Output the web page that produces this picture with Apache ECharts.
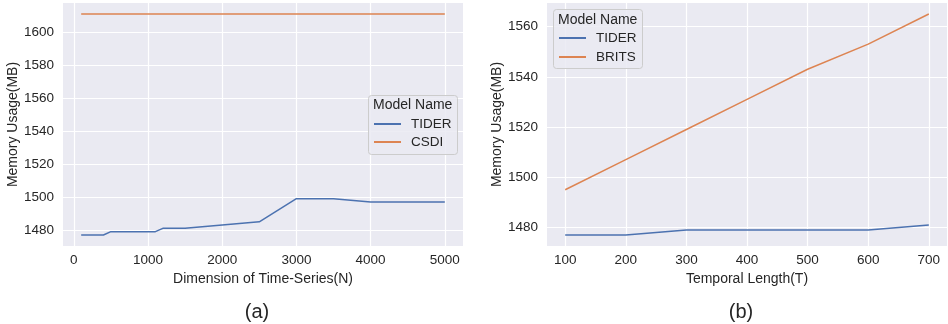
<!DOCTYPE html>
<html><head><meta charset="utf-8">
<script src="https://cdn.jsdelivr.net/npm/echarts@6/dist/echarts.min.js"></script>
<style>html,body{margin:0;padding:0;background:#fff}#c{width:948px;height:324px}</style>
</head><body><div id="c"></div>
<script>
// Panel (a)
const xA = [100, 400, 500, 1100, 1200, 1500, 2000, 2500, 3000, 3500, 4000, 5000];
const tiderA = [1477, 1477, 1479, 1479, 1481, 1481, 1483, 1485, 1499, 1499, 1497, 1497];
const csdiA = [1611, 1611, 1611, 1611, 1611, 1611, 1611, 1611, 1611, 1611, 1611, 1611];
const xTicksA = [0, 1000, 2000, 3000, 4000, 5000];
const yTicksA = [1480, 1500, 1520, 1540, 1560, 1580, 1600];
// Panel (b)
const xB = [100, 200, 300, 400, 500, 600, 700];
const tiderB = [1477, 1477, 1479, 1479, 1479, 1479, 1481];
const britsB = [1495, 1507, 1519, 1531, 1543, 1553, 1565];
const xTicksB = [100, 200, 300, 400, 500, 600, 700];
const yTicksB = [1480, 1500, 1520, 1540, 1560];

const BLUE = '#4C72B0', ORANGE = '#DD8452', TXT = '#262626', FONT = 'Liberation Sans, Arial, sans-serif';
const chart = echarts.init(document.getElementById('c'));
function xAxis(idx, min, max, ticks, name) {
  return {
    type: 'value', gridIndex: idx, min: min, max: max,
    name: name, nameLocation: 'middle', nameGap: 22,
    nameTextStyle: { color: TXT, fontSize: 14, fontFamily: FONT },
    axisLine: { show: false },
    axisTick: { show: false, customValues: ticks },
    axisLabel: { customValues: ticks, color: TXT, fontSize: 13.5, fontFamily: FONT, margin: 7, formatter: v => String(v) },
    splitLine: { show: true, lineStyle: { color: '#ffffff', width: 1.2 } }
  };
}
function yAxis(idx, min, max, ticks) {
  return {
    type: 'value', gridIndex: idx, min: min, max: max,
    name: 'Memory Usage(MB)', nameLocation: 'middle', nameGap: 42,
    nameTextStyle: { color: TXT, fontSize: 14, fontFamily: FONT },
    axisLine: { show: false },
    axisTick: { show: false, customValues: ticks },
    axisLabel: { customValues: ticks, color: TXT, fontSize: 13.5, fontFamily: FONT, margin: 9, formatter: v => String(v) },
    splitLine: { show: true, lineStyle: { color: '#ffffff', width: 1.2 } }
  };
}
function line(name, xs, ys, color, xi) {
  return {
    type: 'line', name: name, xAxisIndex: xi, yAxisIndex: xi,
    data: xs.map((x, i) => [x, ys[i]]),
    showSymbol: false, symbol: 'none', lineStyle: { color: color, width: 1.5 }, itemStyle: { color: color },
    emphasis: { disabled: true }, animation: false
  };
}
const legendText = { color: TXT, fontSize: 13.5, fontFamily: FONT, lineHeight: 14, padding: [0, 0, 0, 5] };
chart.setOption({
  animation: false,
  grid: [
    { left: 63, top: 3, width: 400, height: 243, show: true, backgroundColor: '#EAEAF2', borderWidth: 0 },
    { left: 547, top: 3, width: 400, height: 243, show: true, backgroundColor: '#EAEAF2', borderWidth: 0 }
  ],
  xAxis: [
    xAxis(0, -145, 5245, xTicksA, 'Dimension of Time-Series(N)'),
    xAxis(1, 70, 730, xTicksB, 'Temporal Length(T)')
  ],
  yAxis: [
    yAxis(0, 1470.3, 1617.7, yTicksA),
    yAxis(1, 1472.6, 1569.4, yTicksB)
  ],
  legend: [
    { z: 60, data: ['TIDER', 'CSDI'], orient: 'vertical', left: 374, top: 117, itemWidth: 27, itemHeight: 2, itemGap: 4, icon: 'rect', textStyle: legendText, selectedMode: false, padding: 0 },
    { z: 60, data: ['TIDER', 'BRITS'], orient: 'vertical', left: 559, top: 31, itemWidth: 27, itemHeight: 2, itemGap: 5, icon: 'rect', textStyle: legendText, selectedMode: false, padding: 0 }
  ],
  graphic: [
    { type: 'rect', z: 50, shape: { x: 368.5, y: 95.5, width: 89, height: 59, r: 3 }, style: { fill: 'rgba(234,234,242,0.85)', stroke: '#CCCCCC', lineWidth: 1 } },
    { type: 'text', z: 51, x: 373, y: 105, style: { text: 'Model Name', fill: TXT, font: '14px ' + FONT, verticalAlign: 'middle' } },
    { type: 'rect', z: 50, shape: { x: 553.5, y: 9.5, width: 89, height: 59, r: 3 }, style: { fill: 'rgba(234,234,242,0.85)', stroke: '#CCCCCC', lineWidth: 1 } },
    { type: 'text', z: 51, x: 558, y: 20, style: { text: 'Model Name', fill: TXT, font: '14px ' + FONT, verticalAlign: 'middle' } },
    { type: 'text', x: 257, y: 312, style: { text: '(a)', fill: TXT, font: '20px ' + FONT, align: 'center', verticalAlign: 'middle' } },
    { type: 'text', x: 741, y: 312, style: { text: '(b)', fill: TXT, font: '20px ' + FONT, align: 'center', verticalAlign: 'middle' } }
  ],
  series: [
    line('TIDER', xA, tiderA, BLUE, 0),
    line('CSDI', xA, csdiA, ORANGE, 0),
    line('TIDER', xB, tiderB, BLUE, 1),
    line('BRITS', xB, britsB, ORANGE, 1)
  ]
});
</script></body></html>
